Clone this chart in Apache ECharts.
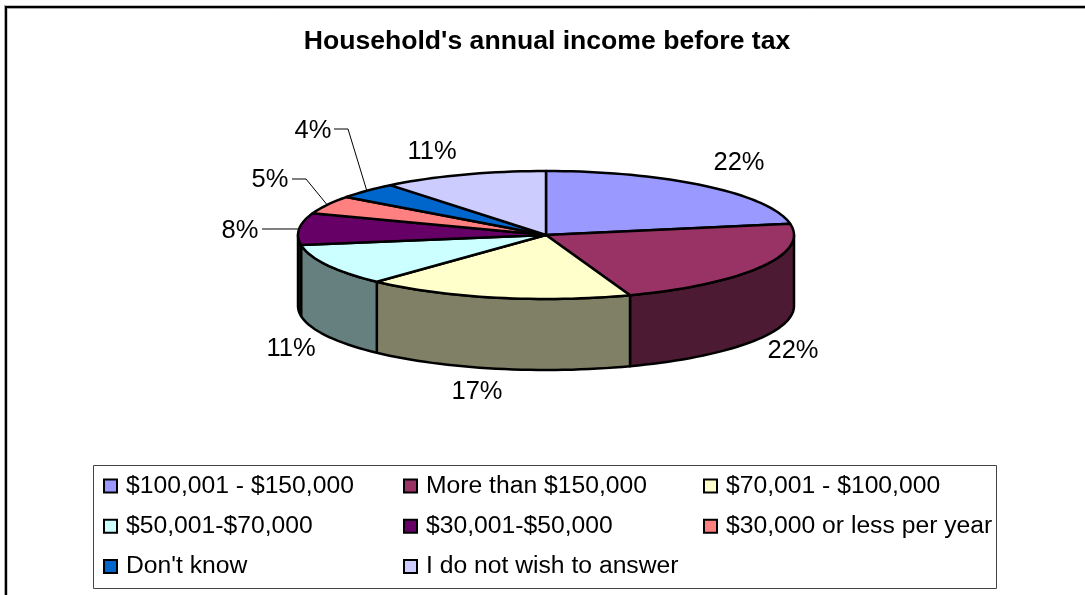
<!DOCTYPE html>
<html lang="en">
<head>
    <meta charset="UTF-8">
    <title>Household's annual income before tax</title>
    <script src="https://cdn.jsdelivr.net/npm/echarts@6/dist/echarts.min.js"></script>
    <style type="text/css">
        html, body { margin: 0; padding: 0; background: #fff; }
        #main { width: 1085px; height: 595px; }
    </style>
</head>
<body>
<div id="main"></div>

<script type="text/javascript">
    const categories = ['$100,001 - $150,000', 'More than $150,000', '$70,001 - $100,000', '$50,001-$70,000',
        '$30,001-$50,000', '$30,000 or less per year', "Don't know", 'I do not wish to answer'];
    // shares estimated from the slice boundaries, they round to the printed labels
    const shares = [22.2, 22.3, 17.45, 10.55, 8.0, 4.6, 4.1, 10.8];
    const topColors = ['#9999FF', '#993366', '#FFFFCC', '#CCFFFF', '#660066', '#FF8080', '#0066CC', '#CCCCFF'];
    const wallColors = ['#4D4D80', '#4D1A33', '#808066', '#668080', '#330033', '#804040', '#003366', '#666680'];

    // pie layout
    const cx = 546, cy = 235, rx = 248, ry = 64, depth = 71;
    const fontFamily = '"Liberation Sans", Arial, sans-serif';
    // label centres, and the elbow of the leader line where there is one
    const labelSpots = [[739, 163], [793, 351], [477, 392], [291, 349], [240, 231], [270, 180], [313, 131], [432, 152]];
    const leaderElbows = [null, null, null, null, [262, 229], [[292, 179], [306, 179]], [[334, 129], [348, 129]], null];

    const total = shares.reduce(function (a, b) { return a + b; }, 0);

    function point(deg, down) {
        const r = deg * Math.PI / 180;
        return [cx + rx * Math.sin(r), cy - ry * Math.cos(r) + (down || 0)];
    }

    function arc(from, to, down) {
        const pts = [];
        const n = Math.max(2, Math.ceil(Math.abs(to - from) / 2));
        for (let i = 0; i <= n; i++) {
            pts.push(point(from + (to - from) * i / n, down));
        }
        return pts;
    }

    function renderSlice(idx) {
        return function () {
            const before = shares.slice(0, idx).reduce(function (a, b) { return a + b; }, 0);
            const start = before / total * 360;
            const end = (before + shares[idx]) / total * 360;
            const children = [];

            // the wall only shows on the front half of the disc
            const wallFrom = Math.max(start, 90);
            const wallTo = Math.min(end, 270);
            if (wallFrom < wallTo) {
                children.push({
                    type: 'polygon',
                    z2: 1,
                    shape: { points: arc(wallFrom, wallTo, 0).concat(arc(wallTo, wallFrom, depth)) },
                    style: { fill: wallColors[idx], stroke: '#000', lineWidth: 2.5, lineJoin: 'round' }
                });
            }

            children.push({
                type: 'polygon',
                z2: 2,
                shape: { points: [[cx, cy]].concat(arc(start, end, 0)) },
                style: { fill: topColors[idx], stroke: '#000', lineWidth: 2.5, lineJoin: 'round' }
            });

            const elbow = leaderElbows[idx];
            if (elbow) {
                const target = point((start + end) / 2, 0);
                const pts = (Array.isArray(elbow[0]) ? elbow : [elbow]).concat([target]);
                children.push({
                    type: 'polyline',
                    z2: 3,
                    shape: { points: pts },
                    style: { fill: null, stroke: '#000', lineWidth: 1 }
                });
            }

            children.push({
                type: 'text',
                z2: 4,
                style: {
                    x: labelSpots[idx][0],
                    y: labelSpots[idx][1],
                    text: Math.round(shares[idx]) + '%',
                    font: '25.5px ' + fontFamily,
                    fill: '#000',
                    align: 'center',
                    verticalAlign: 'middle'
                }
            });

            return { type: 'group', children: children };
        };
    }

    function legendColumn(names, left) {
        return {
            data: names,
            orient: 'vertical',
            left: left,
            top: 467,
            itemWidth: 13,
            itemHeight: 13,
            itemGap: 12.3,
            icon: 'rect',
            selectedMode: false,
            itemStyle: { borderColor: '#000', borderWidth: 2 },
            textStyle: { fontFamily: fontFamily, fontSize: 24.7, lineHeight: 28, color: '#000', padding: [0, 0, 0, 4] }
        };
    }

    const myChart = echarts.init(document.getElementById('main'), null, { renderer: 'canvas' });

    const option = {
        animation: false,
        backgroundColor: '#fff',
        title: {
            text: "Household's annual income before tax",
            left: 542,
            textAlign: 'center',
            top: 23,
            textStyle: { fontFamily: fontFamily, fontSize: 26.6, fontWeight: 'bold', color: '#000' }
        },
        legend: [
            legendColumn([categories[0], categories[3], categories[6]], 98),
            legendColumn([categories[1], categories[4], categories[7]], 398),
            legendColumn([categories[2], categories[5]], 698)
        ],
        graphic: [
            { type: 'rect', z: -1, shape: { x: 6, y: 7, width: 1200, height: 800 }, style: { fill: '#fff', stroke: '#000', lineWidth: 2.4 } },
            { type: 'line', z: -1, shape: { x1: 4.5, y1: 5, x2: 4.5, y2: 595 }, style: { stroke: '#aaa', lineWidth: 1 } },
            { type: 'line', z: -1, shape: { x1: 7, y1: 8.5, x2: 1085, y2: 8.5 }, style: { stroke: '#aaa', lineWidth: 1 } },
            { type: 'rect', z: -1, shape: { x: 93.5, y: 465.5, width: 903, height: 123 }, style: { fill: '#fff', stroke: '#444', lineWidth: 1 } }
        ],
        series: categories.map(function (name, idx) {
            return {
                type: 'custom',
                name: name,
                coordinateSystem: 'none',
                silent: true,
                clip: false,
                itemStyle: { color: topColors[idx] },
                data: [shares[idx]],
                renderItem: renderSlice(idx)
            };
        })
    };

    myChart.setOption(option);
</script>
</body>
</html>
